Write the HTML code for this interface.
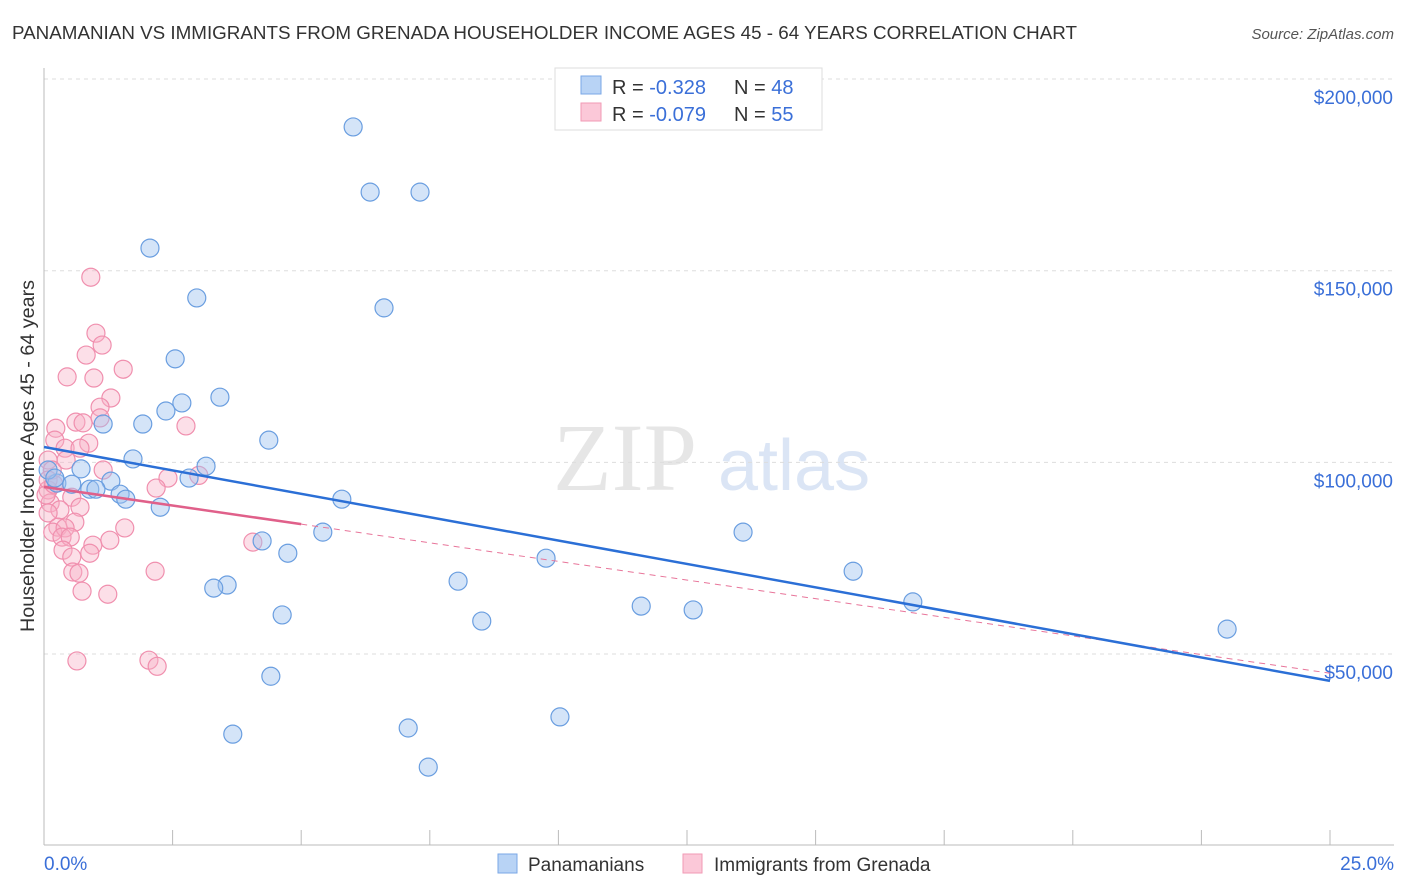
<!DOCTYPE html>
<html><head><meta charset="utf-8"><style>
body{margin:0;background:#fff;width:1406px;height:892px;overflow:hidden;font-family:"Liberation Sans",sans-serif}
svg{position:absolute;left:0;top:0}
</style></head><body>
<svg id="chart" width="1406" height="892">
<text x="12" y="39" font-size="18" fill="#333" textLength="1065" lengthAdjust="spacingAndGlyphs">PANAMANIAN VS IMMIGRANTS FROM GRENADA HOUSEHOLDER INCOME AGES 45 - 64 YEARS CORRELATION CHART</text>
<text x="1394" y="39" font-size="15" fill="#555" font-style="italic" text-anchor="end">Source: ZipAtlas.com</text>
<g opacity="0.5">
<text x="553" y="490" font-family="Liberation Serif" font-size="96" fill="#cfcfcf">ZIP</text>
<text x="718" y="490" font-size="72" fill="#b9cdec">atlas</text>
</g>
<g id="grid"></g>
<line x1="44" y1="68" x2="44" y2="845" stroke="#bbb"/>
<line x1="44" y1="845" x2="1394" y2="845" stroke="#bbb"/>
<g id="ticks"></g>
<text x="34" y="456" font-size="19" fill="#333" text-anchor="middle" textLength="352" lengthAdjust="spacingAndGlyphs" transform="rotate(-90 34 456)">Householder Income Ages 45 - 64 years</text>
<text x="44" y="870" font-size="19" fill="#3a6fd8">0.0%</text>
<text x="1394" y="870" font-size="19" fill="#3a6fd8" text-anchor="end">25.0%</text>
<g id="pts"></g>
<g id="trends"></g>
<g>
<rect x="555" y="68" width="267" height="62" fill="#fff" stroke="#ddd"/>
<rect x="581" y="76" width="20" height="18" fill="#b8d3f5" stroke="#7aa7e6"/>
<rect x="581" y="103" width="20" height="18" fill="#fbc8d8" stroke="#f19ab5"/>
<text x="612" y="94" font-size="20" fill="#333">R = <tspan fill="#3a6fd8">-0.328</tspan><tspan x="734">N = </tspan><tspan fill="#3a6fd8">48</tspan></text>
<text x="612" y="121" font-size="20" fill="#333">R = <tspan fill="#3a6fd8">-0.079</tspan><tspan x="734">N = </tspan><tspan fill="#3a6fd8">55</tspan></text>
</g>
<g>
<rect x="498" y="854" width="19" height="19" fill="#b8d3f5" stroke="#7aa7e6"/>
<text x="528" y="871" font-size="19" fill="#333">Panamanians</text>
<rect x="683" y="854" width="19" height="19" fill="#fbc8d8" stroke="#f19ab5"/>
<text x="714" y="871" font-size="19" fill="#333">Immigrants from Grenada</text>
</g>
</svg>
<script>
const yTicks=[50,100,150,200];
const yTickLabels=["$50,000","$100,000","$150,000","$200,000"];
const xTicks=[0,2.5,5,7.5,10,12.5,15,17.5,20,22.5,25];
const blueX=[6.01,6.34,7.31,2.06,2.97,6.61,2.55,3.42,2.68,2.37,1.92,1.15,4.37,1.73,3.15,0.72,2.82,1.30,0.25,0.54,0.89,1.01,1.48,1.59,5.79,2.26,5.42,13.59,4.24,4.74,9.76,8.05,15.73,3.56,3.30,11.61,12.62,16.89,4.63,8.51,23.0,4.41,10.03,3.67,7.08,7.47,0.08,0.21];
const blueY=[187.5,170.5,170.5,155.9,142.9,140.3,127.0,117.0,115.5,113.4,110.0,110.0,105.8,100.9,99.0,98.3,95.9,95.1,94.6,94.3,93.0,93.0,91.7,90.4,90.4,88.3,81.8,81.8,79.5,76.3,75.0,69.0,71.6,68.0,67.2,62.5,61.5,63.6,60.2,58.6,56.5,44.2,33.6,29.1,30.7,20.5,98.0,95.9];
const pinkX=[0.91,1.01,1.13,0.82,1.54,0.45,0.97,1.30,1.09,1.09,2.76,0.23,0.62,0.76,0.21,0.87,0.41,0.70,0.08,1.15,2.41,3.01,2.18,0.54,0.70,0.08,0.12,0.31,0.08,0.60,0.27,0.17,0.41,1.57,0.35,0.51,0.37,0.95,0.89,0.54,2.16,0.56,0.68,4.06,0.74,1.24,0.64,2.04,2.20,0.16,0.08,0.04,0.19,0.43,1.28];
const pinkY=[148.3,133.7,130.6,128.0,124.3,122.3,122.0,116.8,114.4,111.6,109.5,108.9,110.5,110.3,105.8,105.0,103.7,103.7,100.6,98.0,95.9,96.6,93.3,90.9,88.3,92.8,89.4,87.6,86.8,84.4,83.1,81.8,82.9,82.9,80.5,80.5,77.1,78.4,76.3,75.3,71.6,71.4,71.1,79.2,66.4,65.6,48.2,48.4,46.8,98.0,95.4,91.5,94.3,100.6,79.7];
const blueTrend=[104,43];
const pinkTrend=[93.6,45];
const pinkSolidEnd=5;
const NS="http://www.w3.org/2000/svg";
const X=v=>44+v/25*1286;
const Y=v=>845.7-v*3.8333;
function mk(tag,attrs,parent){const e=document.createElementNS(NS,tag);for(const k in attrs)e.setAttribute(k,attrs[k]);document.getElementById(parent).appendChild(e);return e;}
yTicks.forEach((t,i)=>{
 const g=mk('line',{x1:44,x2:1394,y1:Y(t),y2:Y(t),stroke:'#ddd','stroke-dasharray':'4,4'},'grid');
 
 
 const l=mk('text',{x:1393,y:Y(t)+25,'font-size':19,fill:'#3a6fd8','text-anchor':'end'},'grid');
 l.textContent=yTickLabels[i];
 
 
});
xTicks.forEach(t=>{
 const e=mk('line',{x1:X(t),x2:X(t),y1:830,y2:845,stroke:'#bbb'},'ticks');
 
 
});
pinkX.forEach((v,i)=>{
 const c=mk('circle',{cx:X(v),cy:Y(pinkY[i]),r:9,fill:'rgba(248,176,198,0.4)',stroke:'#f08fae','stroke-width':1.2},'pts');
 
 
});
blueX.forEach((v,i)=>{
 const c=mk('circle',{cx:X(v),cy:Y(blueY[i]),r:9,fill:'rgba(160,196,240,0.45)',stroke:'#6a9ee0','stroke-width':1.2},'pts');
 
 
});
const pAt=x=>pinkTrend[0]+(pinkTrend[1]-pinkTrend[0])*x/25;
const pd=mk('line',{x1:X(pinkSolidEnd),y1:Y(pAt(pinkSolidEnd)),x2:X(25),y2:Y(pinkTrend[1]),stroke:'#e8759a','stroke-width':1,'stroke-dasharray':'6,5'},'trends');


const ps=mk('line',{x1:X(0),y1:Y(pinkTrend[0]),x2:X(pinkSolidEnd),y2:Y(pAt(pinkSolidEnd)),stroke:'#e0608a','stroke-width':2.5},'trends');


const bl=mk('line',{x1:X(0),y1:Y(blueTrend[0]),x2:X(25),y2:Y(blueTrend[1]),stroke:'#2b6fd6','stroke-width':2.5},'trends');


</script>
</body></html>
